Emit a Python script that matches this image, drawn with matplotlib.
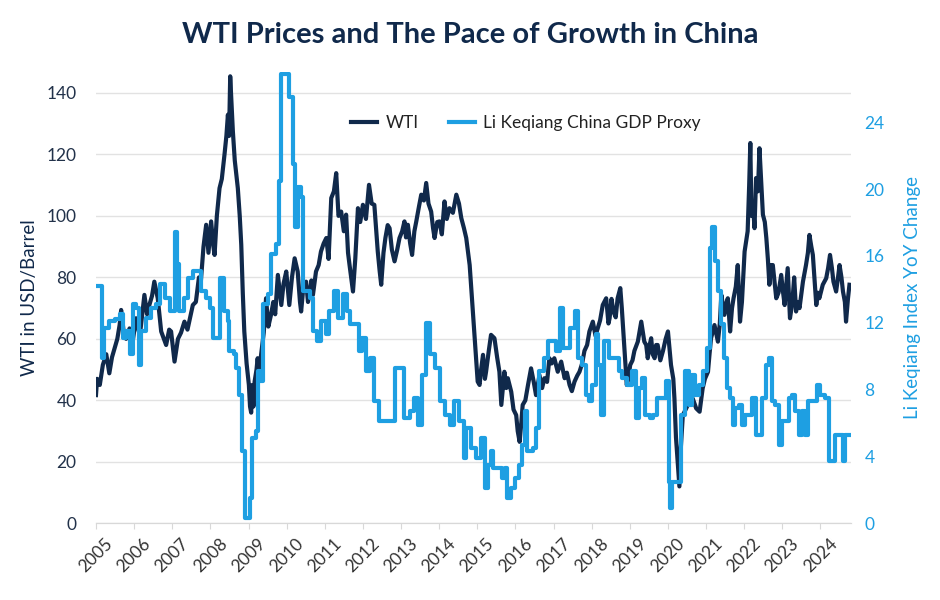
import matplotlib
matplotlib.use("Agg")
import matplotlib.pyplot as plt

# WTI weekly-ish prices (decimal year, USD/barrel)
wti_year = [
    2005.00, 2005.03, 2005.10, 2005.18, 2005.27, 2005.35, 2005.42, 2005.49, 2005.56, 2005.62,
    2005.66, 2005.72, 2005.79, 2005.88, 2005.95, 2006.05, 2006.15, 2006.27, 2006.34, 2006.40,
    2006.47, 2006.53, 2006.62, 2006.71, 2006.78, 2006.84, 2006.92, 2006.97, 2007.06, 2007.15,
    2007.23, 2007.32, 2007.40, 2007.54, 2007.62, 2007.70, 2007.75, 2007.82, 2007.89, 2007.95,
    2008.02, 2008.08, 2008.11, 2008.17, 2008.24, 2008.30, 2008.37, 2008.42, 2008.46, 2008.49,
    2008.52, 2008.55, 2008.59, 2008.64, 2008.72, 2008.77, 2008.81, 2008.85, 2008.89, 2008.95,
    2009.01, 2009.04, 2009.07, 2009.10, 2009.13, 2009.16, 2009.21, 2009.24, 2009.28, 2009.33,
    2009.40, 2009.46, 2009.52, 2009.59, 2009.65, 2009.70, 2009.77, 2009.86, 2009.92, 2009.99,
    2010.07, 2010.14, 2010.21, 2010.29, 2010.35, 2010.38, 2010.44, 2010.51, 2010.56, 2010.60,
    2010.65, 2010.69, 2010.77, 2010.84, 2010.90, 2010.97, 2011.04, 2011.10, 2011.17, 2011.24,
    2011.30, 2011.36, 2011.43, 2011.50, 2011.56, 2011.61, 2011.65, 2011.74, 2011.80, 2011.87,
    2011.93, 2012.00, 2012.08, 2012.16, 2012.23, 2012.30, 2012.35, 2012.39, 2012.44, 2012.48,
    2012.54, 2012.59, 2012.65, 2012.70, 2012.76, 2012.83, 2012.90, 2012.96, 2013.03, 2013.09,
    2013.13, 2013.18, 2013.24, 2013.29, 2013.35, 2013.40, 2013.47, 2013.53, 2013.60, 2013.66,
    2013.72, 2013.79, 2013.84, 2013.88, 2013.95, 2014.01, 2014.07, 2014.14, 2014.20, 2014.27,
    2014.36, 2014.45, 2014.52, 2014.58, 2014.65, 2014.71, 2014.76, 2014.80, 2014.85, 2014.90,
    2014.95, 2015.01, 2015.06, 2015.10, 2015.15, 2015.20, 2015.23, 2015.30, 2015.36, 2015.45,
    2015.52, 2015.58, 2015.63, 2015.67, 2015.71, 2015.76, 2015.80, 2015.89, 2015.95, 2016.02,
    2016.06, 2016.11, 2016.15, 2016.19, 2016.26, 2016.33, 2016.41, 2016.48, 2016.54, 2016.60,
    2016.63, 2016.70, 2016.76, 2016.83, 2016.89, 2016.95, 2017.02, 2017.11, 2017.20, 2017.29,
    2017.35, 2017.42, 2017.48, 2017.55, 2017.62, 2017.68, 2017.75, 2017.81, 2017.88, 2017.94,
    2018.03, 2018.10, 2018.16, 2018.22, 2018.29, 2018.38, 2018.44, 2018.47, 2018.52, 2018.57,
    2018.63, 2018.68, 2018.75, 2018.79, 2018.83, 2018.88, 2018.92, 2018.96, 2019.01, 2019.07,
    2019.12, 2019.21, 2019.30, 2019.38, 2019.43, 2019.47, 2019.52, 2019.56, 2019.60, 2019.65,
    2019.69, 2019.73, 2019.80, 2019.87, 2019.94, 2020.00, 2020.08, 2020.14, 2020.17, 2020.21,
    2020.26, 2020.30, 2020.34, 2020.39, 2020.48, 2020.56, 2020.65, 2020.74, 2020.83, 2020.91,
    2020.97, 2021.05, 2021.09, 2021.13, 2021.22, 2021.31, 2021.36, 2021.40, 2021.48, 2021.54,
    2021.57, 2021.63, 2021.68, 2021.72, 2021.78, 2021.83, 2021.89, 2021.94, 2022.01, 2022.09,
    2022.13, 2022.16, 2022.19, 2022.23, 2022.27, 2022.31, 2022.36, 2022.40, 2022.45, 2022.49,
    2022.54, 2022.58, 2022.62, 2022.66, 2022.70, 2022.75, 2022.80, 2022.84, 2022.90, 2022.97,
    2023.02, 2023.06, 2023.14, 2023.20, 2023.24, 2023.27, 2023.31, 2023.36, 2023.40, 2023.45,
    2023.54, 2023.62, 2023.67, 2023.71, 2023.76, 2023.80, 2023.85, 2023.89, 2023.93, 2023.97,
    2024.06, 2024.15, 2024.20, 2024.25, 2024.30, 2024.34, 2024.41, 2024.46, 2024.50, 2024.55,
    2024.59, 2024.64, 2024.67, 2024.72, 2024.76,
]
wti_price = [
    41.7, 47.0, 45.0, 51.5, 55.0, 48.8, 54.0, 57.0, 60.0, 64.5,
    69.4, 63.0, 60.0, 63.4, 58.0, 66.7, 61.0, 74.3, 68.0, 71.0,
    74.0, 78.6, 73.2, 62.4, 60.0, 58.0, 63.0, 62.4, 52.6, 60.0,
    62.0, 65.6, 63.0, 71.0, 72.0, 80.0, 78.6, 90.0, 97.1, 88.0,
    98.2, 90.0, 87.3, 100.0, 109.0, 112.0, 119.9, 126.0, 132.9, 126.0,
    145.4, 138.0, 127.5, 118.0, 109.0, 100.0, 90.6, 75.0, 62.4, 52.0,
    45.0, 38.0, 36.0, 45.0, 38.0, 46.1, 50.0, 53.7, 48.0, 54.8,
    62.0, 73.2, 64.0, 67.8, 72.0, 68.0, 80.8, 71.0, 78.0, 81.9,
    71.0, 80.0, 86.2, 81.9, 72.0, 68.9, 77.0, 78.6, 72.0, 74.3,
    79.0, 74.3, 81.9, 84.0, 88.4, 91.0, 92.8, 86.0, 105.8, 108.0,
    113.9, 100.0, 101.4, 95.0, 100.4, 88.0, 84.0, 75.4, 86.0, 102.5,
    98.0, 103.6, 99.0, 110.1, 104.0, 103.6, 95.0, 88.4, 82.0, 77.6,
    88.0, 92.8, 97.0, 96.0, 89.0, 85.2, 89.0, 92.8, 95.0, 98.2,
    93.0, 97.1, 91.0, 87.3, 95.0, 98.2, 103.0, 106.9, 105.0, 110.7,
    104.0, 101.4, 96.0, 92.8, 98.0, 98.2, 94.0, 104.7, 99.0, 102.5,
    101.0, 106.9, 104.0, 99.3, 96.0, 92.8, 88.0, 84.0, 75.0, 66.0,
    57.0, 46.1, 45.0, 50.0, 54.8, 47.0, 49.3, 56.0, 61.3, 60.2,
    54.0, 49.3, 38.5, 44.0, 49.3, 44.0, 47.2, 42.8, 37.0, 35.2,
    30.0, 26.5, 32.0, 38.5, 40.0, 45.0, 50.4, 46.0, 41.7, 46.0,
    48.2, 44.0, 47.2, 46.0, 53.7, 52.0, 53.7, 49.3, 52.6, 47.2,
    49.0, 45.0, 43.0, 46.1, 48.0, 49.3, 52.0, 56.1, 58.0, 62.4,
    65.6, 61.0, 63.5, 66.0, 71.0, 73.2, 65.0, 66.7, 73.0, 68.9,
    67.0, 73.2, 76.5, 70.0, 62.4, 53.0, 45.0, 47.0, 51.5, 53.0,
    56.1, 59.1, 65.6, 59.1, 58.0, 53.7, 58.0, 60.2, 55.0, 53.7,
    58.0, 58.0, 53.0, 56.1, 60.0, 62.4, 51.5, 47.0, 40.6, 28.0,
    18.9, 12.0, 25.0, 35.2, 37.4, 39.6, 40.6, 37.4, 36.3, 43.9,
    47.0, 49.3, 55.0, 60.2, 64.5, 59.1, 65.0, 74.3, 67.8, 72.0,
    73.2, 62.4, 70.0, 73.2, 77.0, 84.0, 65.6, 72.0, 88.4, 95.0,
    110.0, 123.7, 100.0, 103.6, 96.0, 112.3, 108.0, 122.0, 110.0, 100.4,
    98.0, 92.8, 86.0, 77.6, 84.0, 84.0, 78.0, 73.2, 75.0, 80.8,
    75.0, 71.0, 83.0, 66.7, 70.0, 73.2, 80.0, 68.9, 72.0, 70.0,
    78.6, 84.0, 88.0, 93.8, 90.0, 87.3, 78.0, 71.0, 75.0, 73.2,
    77.6, 79.7, 83.0, 87.3, 83.0, 78.6, 75.4, 80.0, 84.0, 80.0,
    75.4, 72.0, 65.6, 73.0, 77.6,
]

# Li Keqiang index YoY change (%), monthly steps
li_year = [
    2005.00, 2005.16, 2005.20, 2005.35, 2005.49, 2005.62, 2005.70, 2005.79, 2005.88, 2005.97,
    2006.05, 2006.12, 2006.18, 2006.32, 2006.45, 2006.58, 2006.67, 2006.80, 2006.93, 2007.06,
    2007.13, 2007.19, 2007.32, 2007.41, 2007.54, 2007.76, 2007.89, 2007.98, 2008.08, 2008.24,
    2008.35, 2008.46, 2008.50, 2008.63, 2008.68, 2008.76, 2008.83, 2008.90, 2009.05, 2009.10,
    2009.20, 2009.24, 2009.30, 2009.39, 2009.51, 2009.59, 2009.71, 2009.79, 2009.86, 2010.07,
    2010.16, 2010.23, 2010.29, 2010.38, 2010.44, 2010.60, 2010.70, 2010.79, 2010.90, 2011.04,
    2011.12, 2011.23, 2011.34, 2011.47, 2011.58, 2011.67, 2011.89, 2011.98, 2012.08, 2012.19,
    2012.28, 2012.42, 2012.83, 2013.09, 2013.24, 2013.33, 2013.44, 2013.55, 2013.66, 2013.76,
    2013.90, 2014.03, 2014.16, 2014.29, 2014.40, 2014.53, 2014.64, 2014.71, 2014.84, 2014.97,
    2015.10, 2015.19, 2015.28, 2015.35, 2015.42, 2015.65, 2015.72, 2015.78, 2015.89, 2016.00,
    2016.09, 2016.18, 2016.25, 2016.31, 2016.46, 2016.53, 2016.61, 2016.74, 2016.85, 2017.07,
    2017.16, 2017.24, 2017.44, 2017.55, 2017.64, 2017.75, 2017.84, 2017.92, 2018.01, 2018.10,
    2018.17, 2018.24, 2018.31, 2018.45, 2018.71, 2018.80, 2018.92, 2019.06, 2019.15, 2019.24,
    2019.32, 2019.41, 2019.53, 2019.62, 2019.71, 2019.94, 2020.02, 2020.05, 2020.11, 2020.35,
    2020.46, 2020.55, 2020.63, 2020.72, 2020.81, 2020.93, 2021.03, 2021.09, 2021.15, 2021.23,
    2021.32, 2021.39, 2021.46, 2021.54, 2021.63, 2021.70, 2021.76, 2021.86, 2021.95, 2022.02,
    2022.21, 2022.30, 2022.47, 2022.56, 2022.64, 2022.73, 2022.82, 2022.91, 2022.99, 2023.17,
    2023.26, 2023.34, 2023.43, 2023.52, 2023.59, 2023.68, 2023.90, 2023.99, 2024.13, 2024.22,
    2024.39, 2024.60, 2024.65, 2024.76,
]
li_change = [
    14.2, 9.9, 11.7, 12.1, 12.2, 12.5, 11.1, 11.5, 10.1, 13.1,
    12.9, 9.5, 11.5, 12.3, 12.9, 13.1, 14.3, 13.5, 12.7, 17.4,
    15.5, 12.7, 13.5, 14.7, 15.1, 13.9, 13.5, 12.9, 11.1, 14.7,
    12.7, 12.1, 10.3, 10.1, 9.3, 7.7, 4.3, 0.3, 1.5, 5.1,
    5.5, 9.1, 8.5, 13.1, 13.7, 16.1, 16.7, 20.5, 26.9, 25.5,
    21.5, 17.7, 20.1, 19.5, 13.9, 13.5, 11.5, 10.9, 12.1, 11.3,
    12.7, 13.9, 12.3, 13.7, 12.7, 11.9, 10.3, 11.1, 9.1, 9.9,
    7.3, 6.1, 9.3, 6.3, 6.7, 7.5, 5.9, 8.9, 12.0, 10.1,
    9.3, 7.3, 6.5, 5.9, 7.3, 6.1, 3.9, 5.7, 4.5, 3.9,
    5.1, 2.1, 3.5, 4.3, 3.3, 2.7, 3.3, 1.5, 2.1, 2.7,
    3.5, 4.7, 6.7, 4.3, 4.5, 5.7, 9.1, 9.9, 10.9, 10.3,
    12.9, 10.5, 11.7, 12.7, 9.9, 9.5, 7.7, 7.3, 8.3, 11.3,
    9.5, 6.5, 10.9, 9.9, 9.1, 8.7, 8.3, 9.1, 6.3, 8.1,
    8.7, 6.5, 6.3, 6.5, 7.5, 8.5, 2.5, 0.9, 2.5, 6.5,
    9.1, 7.1, 8.9, 7.7, 8.3, 9.1, 10.5, 16.5, 17.7, 15.7,
    13.9, 11.9, 9.9, 8.1, 7.5, 5.9, 6.9, 7.1, 5.9, 6.5,
    7.5, 5.3, 7.5, 9.5, 9.9, 7.3, 7.1, 4.7, 6.1, 7.5,
    7.7, 6.7, 5.3, 6.7, 5.3, 7.3, 8.3, 7.7, 7.5, 3.7,
    5.3, 3.7, 5.3, 5.3,
]

year_ticks = list(range(2005, 2025))

navy = '#10294b'
blue = '#1e9fe2'
grid_gray = '#e2e2e2'

plt.rcParams['font.family'] = ['Lato', 'DejaVu Sans']

fig = plt.figure(figsize=(9.4, 6.0), dpi=100)
ax = fig.add_axes([0.1021, 0.1278, 0.8028, 0.7522])
ax2 = ax.twinx()

ax.plot(wti_year, wti_price, color=navy, lw=3.0, label='WTI')
ax2.plot(li_year, li_change, color=blue, lw=3.0, drawstyle='steps-post',
         label='Li Keqiang China GDP Proxy')

ax.set_xlim(2005, 2024.79)
ax.set_ylim(0, 146.8)
ax2.set_ylim(0, 27.0)

ax.set_yticks(range(0, 141, 20))
ax2.set_yticks(range(0, 25, 4))
ax.set_xticks(year_ticks)
ax.set_xticklabels([str(y) for y in year_ticks], rotation=45, ha='center',
                   fontsize=12.5, color='#333333')

ax.grid(axis='y', color=grid_gray, lw=1)
ax.set_axisbelow(True)
for a in (ax, ax2):
    for side in ('top', 'left', 'right'):
        a.spines[side].set_visible(False)
    a.spines['bottom'].set_color('#d8d8d8')

ax.tick_params(axis='y', length=0, labelsize=12.5, labelcolor='#22324a', pad=14)
ax.tick_params(axis='x', length=4, color='#d8d8d8', pad=5)
ax2.tick_params(axis='y', length=0, labelsize=12.5, labelcolor=blue, pad=10)

ax.set_ylabel('WTI in USD/Barrel', fontsize=13.5, color=navy, labelpad=6)
ax2.set_ylabel('Li Keqiang Index YoY Change', fontsize=13.5, color=blue, labelpad=14)

fig.suptitle('WTI Prices and The Pace of Growth in China', x=0.5, y=0.963,
             fontsize=21, fontweight='bold', color=navy)

h1, l1 = ax.get_legend_handles_labels()
h2, l2 = ax2.get_legend_handles_labels()
ax2.legend(h1 + h2, l1 + l2, loc='center', bbox_to_anchor=(0.57, 0.887),
           ncol=2, frameon=False, fontsize=12.5, handlelength=1.5,
           handletextpad=0.5, columnspacing=1.7, labelcolor='#222222')

fig.savefig('out.png', dpi=100, facecolor='white')
